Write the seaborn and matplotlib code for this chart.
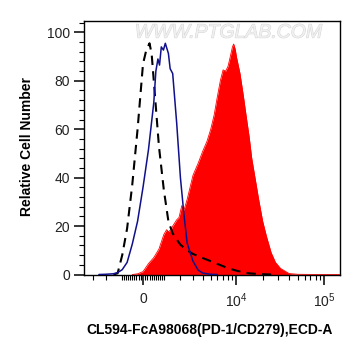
import numpy as np
import pandas as pd
import matplotlib
matplotlib.use("Agg")
import matplotlib.pyplot as plt
import matplotlib.ticker as mticker
import matplotlib.patheffects as pe
import seaborn as sns

# ---------------- data (fluorescence intensity vs relative cell number) ----------------
ctrl_x = [-1500, -1250, -1000, -750, -500, -250, 0, 150, 300, 400, 500, 750, 1000, 1250,
          1500, 1750, 2000, 2500, 3000, 4000, 5000, 6500, 8000, 10000, 12000, 14000, 18000, 25000]
ctrl_y = [0, 0.5, 8, 19, 37, 60, 87, 92.7, 95.5, 91, 80, 53, 35, 22,
          17, 14.5, 12.3, 10, 8.5, 6.8, 5.5, 3.9, 2.6, 1.6, 0.9, 0.5, 0.2, 0]

blue_x = [-2500, -2000, -1500, -1250, -1000, -750, -500, -250, 0, 250, 500, 600, 700, 780,
          870, 980, 1080, 1250, 1350, 1500, 1750, 2000, 2250, 2500, 3000, 3500, 4000, 5000, 6000]
blue_y = [0, 0.1, 0.3, 0.8, 2, 5, 12.5, 22, 36, 51.5, 71, 84, 89, 86.5,
          94, 92.7, 95.5, 91.3, 85, 83, 62.5, 40, 25, 13, 5.5, 1.8, 0.6, 0.1, 0]

red_x = [-500, -250, 0, 250, 500, 750, 1000, 1150, 1250, 1400, 1500, 1750, 1900, 2100, 2250,
         2500, 3000, 3500, 4000, 4500, 5000, 5500, 6000, 6500, 7000, 7500, 8000, 8500, 9000,
         9300, 9700, 10000, 11000, 12000, 13000, 14000, 15000, 16000, 18000, 20000, 22000,
         25000, 28000, 32000, 40000, 50000, 100000, 150000]
red_y = [0, 0.3, 1.2, 4.5, 7, 10.5, 16.5, 18.5, 17.7, 18.5, 20, 22.6, 23.5, 28.5, 26.5,
         31, 41, 46, 51, 55, 60, 66, 73.5, 80, 84.5, 84, 86, 90, 94,
         95.2, 93, 90, 83, 74, 65, 57, 48, 42, 31, 22, 16,
         9, 5, 2.5, 0.4, 0.1, 0, 0]

x_tick_values = [0, 10000, 100000]
x_tick_labels = ["0", "$10^4$", "$10^5$"]
y_tick_values = [0, 20, 40, 60, 80, 100]

x_label = "CL594-FcA98068(PD-1/CD279),ECD-A"
y_label = "Relative Cell Number"
watermark = "WWW.PTGLAB.COM"

# ---------------- styling ----------------
sns.set_style("ticks")
plt.rcParams["font.family"] = ["Liberation Sans", "DejaVu Sans"]
plt.rcParams["mathtext.default"] = "regular"

W_BIEX = 1750.0


def fwd(v):
    return np.arcsinh(np.asarray(v, dtype=float) / W_BIEX) / np.log(10)


def inv(u):
    return np.sinh(np.asarray(u, dtype=float) * np.log(10)) * W_BIEX


fig = plt.figure(figsize=(3.61, 3.56), dpi=100)
ax = fig.add_axes([0.2327, 0.2275, 0.7091, 0.7135])
ax.set_xscale("function", functions=(fwd, inv))

red_df = pd.DataFrame({"x": red_x, "y": red_y})
ctrl_df = pd.DataFrame({"x": ctrl_x, "y": ctrl_y})
blue_df = pd.DataFrame({"x": blue_x, "y": blue_y})

ax.fill_between(red_df["x"], 0, red_df["y"], color="#ff0000", linewidth=0, zorder=1)
sns.lineplot(data=red_df, x="x", y="y", ax=ax, color="#ff0000", linewidth=0.6, zorder=1)
sns.lineplot(data=ctrl_df, x="x", y="y", ax=ax, color="black", linewidth=1.5,
             dashes=False, zorder=3).lines[-1].set_dashes((4.5, 3))
sns.lineplot(data=blue_df, x="x", y="y", ax=ax, color="#10108a", linewidth=1.1, zorder=4)

ax.set_xlim(-3911, 151500)
ax.set_ylim(-0.2, 104.7)

# x ticks (biexponential-style)
minor_x = []
for k in (100, 1000):
    for m in range(1, 10):
        minor_x += [-m * k, m * k]
for m in range(1, 10):
    minor_x.append(m * 10000)
minor_x = [v for v in minor_x if -3911 < v < 151500]
ax.xaxis.set_major_locator(mticker.FixedLocator(x_tick_values))
ax.xaxis.set_major_formatter(mticker.FixedFormatter(x_tick_labels))
ax.xaxis.set_minor_locator(mticker.FixedLocator(minor_x))
ax.xaxis.set_minor_formatter(mticker.NullFormatter())

ax.yaxis.set_major_locator(mticker.FixedLocator(y_tick_values))
ax.yaxis.set_minor_locator(mticker.MultipleLocator(4))

ax.tick_params(axis="both", which="major", direction="out", length=7, width=1.1,
               colors="black", labelcolor="#222222", labelsize=10, pad=3)
ax.tick_params(axis="both", which="minor", direction="out", length=3.5, width=0.8, colors="black")
ax.tick_params(axis="x", which="major", pad=5)

for s in ax.spines.values():
    s.set_visible(True)
    s.set_linewidth(1.0)
    s.set_color("black")

ax.set_xlabel(x_label, fontsize=10, fontweight="bold", color="black")
ax.set_ylabel(y_label, fontsize=10, fontweight="bold", color="black")
ax.xaxis.set_label_coords(0.49, -0.188)
ax.yaxis.set_label_coords(-0.195, 0.505)

ax.text(0.565, 0.952, watermark, transform=ax.transAxes, ha="center", va="center",
        fontsize=14, style="italic", color="#f0f0f0", zorder=0,
        path_effects=[pe.withStroke(linewidth=0.7, foreground="#d4d4d4")])

fig.savefig("out.png", dpi=100)
